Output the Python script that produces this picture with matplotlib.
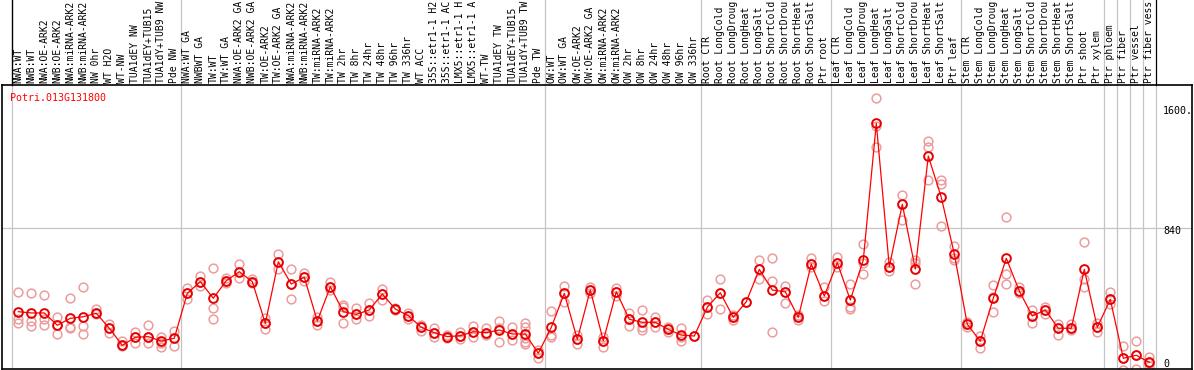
import matplotlib.pyplot as plt
import matplotlib.transforms as mtransforms

gene = 'Potri.013G131800'

samples = ['NWA:WT', 'NWB:WT', 'NWA:OE-ARK2', 'NWB:OE-ARK2', 'NWA:miRNA-ARK2', 'NWB:miRNA-ARK2',
           'NW 0hr', 'WT H2O', 'WT-NW', 'TUA1dEY NW', 'TUA1dEY+TUB15', 'TUA1dY+TUB9 NW', 'Pde NW',
           'NWA:WT GA', 'NWBWT GA', 'TW:WT', 'TW:WT GA', 'NWA:OE-ARK2 GA', 'NWB:OE-ARK2 GA',
           'TW:OE-ARK2', 'TW:OE-ARK2 GA', 'NWA:miRNA-ARK2', 'NWB:miRNA-ARK2', 'TW:miRNA-ARK2',
           'TW:miRNA-ARK2', 'TW 2hr', 'TW 8hr', 'TW 24hr', 'TW 48hr', 'TW 96hr', 'TW 336hr',
           'WT ACC', '35S::etr1-1 H2', '35S::etr1-1 AC', 'LMX5::etr1-1 H', 'LMX5::etr1-1 A',
           'WT-TW', 'TUA1dEY TW', 'TUA1dEY+TUB15', 'TUA1dY+TUB9 TW', 'Pde TW',
           'OW:WT', 'OW:WT GA', 'OW:OE-ARK2', 'OW:OE-ARK2 GA', 'OW:miRNA-ARK2', 'OW:miRNA-ARK2',
           'OW 2hr', 'OW 8hr', 'OW 24hr', 'OW 48hr', 'OW 96hr', 'OW 336hr',
           'Root CTR', 'Root LongCold', 'Root LongDroug', 'Root LongHeat', 'Root LongSalt',
           'Root ShortCold', 'Root ShortDrou', 'Root ShortHeat', 'Root ShortSalt', 'Ptr root',
           'Leaf CTR', 'Leaf LongCold', 'Leaf LongDroug', 'Leaf LongHeat', 'Leaf LongSalt',
           'Leaf ShortCold', 'Leaf ShortDrou', 'Leaf ShortHeat', 'Leaf ShortSalt', 'Ptr leaf',
           'Stem CTR', 'Stem LongCold', 'Stem LongDroug', 'Stem LongHeat', 'Stem LongSalt',
           'Stem ShortCold', 'Stem ShortDrou', 'Stem ShortHeat', 'Stem ShortSalt', 'Ptr shoot',
           'Ptr xylem', 'Ptr phloem', 'Ptr fiber', 'Ptr vessel', 'Ptr fiber vess']

# mean expression per sample
means = [309, 301, 301, 223, 267, 277, 299, 204, 96, 147, 151, 123, 141,
         425, 499, 394, 505, 562, 499, 235, 625, 484, 527, 250, 467, 309, 292, 320, 421, 326,
         284, 210, 176, 151, 157, 182, 176, 193, 168, 168, 46,
         210, 425, 134, 446, 125, 435, 261, 242, 242, 197, 161, 155,
         337, 429, 273, 372, 577, 446, 435, 273, 611, 408,
         619, 383, 636, 1501, 594, 989, 579, 1294, 1033, 674,
         229, 123, 394, 647, 440, 282, 320, 204, 204, 577, 210,
         387, 14, 33, -12]

# individual replicates
reps = [[432, 261, 235], [427, 250, 216], [415, 261, 225], [273, 223, 166], [394, 214, 204],
        [467, 216, 168], [324, 299, 294], [231, 204, 177], [125, 96, 92], [182, 147, 109],
        [227, 151, 109], [151, 109, 87], [189, 141, 94],
        [457, 425, 387], [535, 499, 472], [584, 330, 261], [520, 505, 489], [611, 562, 520],
        [514, 499, 489], [267, 235, 197], [674, 625, 579], [579, 484, 387], [556, 527, 505],
        [277, 250, 225], [499, 467, 446], [351, 337, 235], [330, 292, 263], [362, 320, 282],
        [451, 421, 383], [330, 326, 318], [303, 284, 263], [225, 210, 189], [204, 172, 151],
        [161, 151, 141], [178, 157, 134], [218, 182, 147], [204, 176, 161], [252, 204, 119],
        [214, 168, 130], [235, 210, 141, 119, 104], [66, 46, 14],
        [313, 161, 151], [472, 425, 372], [161, 134, 104], [467, 446, 425], [151, 125, 87],
        [461, 435, 408], [303, 261, 218], [320, 210, 193], [273, 242, 210], [214, 197, 182],
        [204, 151, 125], [155],
        [383, 337, 294], [514, 429, 324], [288, 273, 256], [372], [636, 577, 514],
        [647, 503, 182], [472, 435, 366], [288, 273, 256], [647, 611, 594], [467, 408, 379],
        [653, 619, 594], [484, 337, 324], [737, 619, 548], [1660, 1484, 1353], [625, 594, 568],
        [1048, 989, 889], [636, 615, 484], [1389, 1353, 1143], [1143, 1117, 851], [725, 647, 636],
        [244, 229, 214], [155, 123, 77], [478, 404, 305], [910, 546, 484], [467, 440, 425],
        [320, 282, 239], [341, 320, 292], [229, 204, 161], [229, 204, 193], [752, 514, 467],
        [235, 210, 182], [434, 387, 358], [92, 14, -60], [123, 33, -56], [24, -14, -35]]

# group separators (after these sample indices)
group_ends = [12, 40, 52, 62, 72, 83, 84, 85, 86, 87]
ytick_vals = [1600, 840, 0]
ytick_text = ['1600.', '840', '0']

W, H = 1194, 370
fig = plt.figure(figsize=(W / 100, H / 100), dpi=100)
ax = fig.add_axes([1.5 / W, 1.5 / H, 1190 / W, 284 / H])
ax.set_xlim((1.5 - 18.3) / 13, (1191.5 - 18.3) / 13)
ax.set_ylim(-50.6, 1747)
ax.set_xticks([])
ax.set_yticks([])
for s in ax.spines.values():
    s.set_color('black')
    s.set_linewidth(1.2)

grey = '#c4c4c4'
ax.axhline(840, color=grey, lw=0.9, zorder=1)
ax.axvline(-0.5, color=grey, lw=0.9, zorder=1)
for g in group_ends:
    ax.axvline(g + 0.5, color=grey, lw=0.9, zorder=1)

for i, r in enumerate(reps):
    ax.plot([i] * len(r), r, 'o', mfc='none', mec='#ec9c9c', ms=6.3, mew=1.1, zorder=2)

ax.plot(range(len(means)), means, '-', color='red', lw=0.9, zorder=3)
ax.plot(range(len(means)), means, 'o', mfc='none', mec='#e80000', ms=6.3, mew=1.4, zorder=4)

# value labels, nudged up a little so the top of the text sits on the value
lab_tr = ax.get_yaxis_transform() + mtransforms.ScaledTranslation(0, 2 / 100, fig.dpi_scale_trans)
for v, t in zip(ytick_vals, ytick_text):
    ax.text((1163 - 1.5) / 1190, v, t, transform=lab_tr,
            ha='left', va='top', fontsize=7.2, family='DejaVu Sans Mono')

ax.text(10 / W, (H - 100.7) / H, gene, transform=fig.transFigure, color='red',
        fontsize=7.2, family='DejaVu Sans Mono', va='baseline', ha='left')

# sample labels above the plot
top_tr = mtransforms.blended_transform_factory(ax.transData, fig.transFigure)
y_lab = (H - 83) / H
for i, name in enumerate(samples):
    ax.text(i, y_lab, name[:14], transform=top_tr, rotation=90, ha='center', va='bottom',
            fontsize=7.0, family='DejaVu Sans Mono', clip_on=False)

y0 = (H - 84.5) / H
ax.plot([-0.5, -0.5], [y0, 1], color='black', lw=1, transform=top_tr, clip_on=False)
for g in group_ends:
    c = 'black' if g == 87 else grey
    ax.plot([g + 0.5, g + 0.5], [y0, 1], color=c, lw=0.9, transform=top_tr, clip_on=False)

plt.savefig('out.png', dpi=100)
